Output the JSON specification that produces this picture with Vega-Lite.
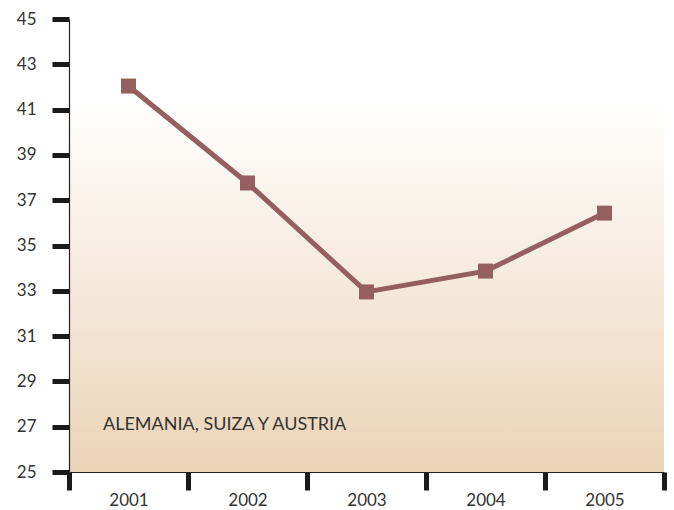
{
  "$schema": "https://vega.github.io/schema/vega-lite/v6.json",
  "width": 595,
  "height": 453,
  "autosize": {"type": "none"},
  "padding": {"left": 69, "top": 19, "right": 10, "bottom": 38},
  "background": "white",
  "config": {
    "view": {"stroke": null},
    "font": "Lato",
    "axis": {
      "grid": false,
      "domainColor": "#222222",
      "domainWidth": 1.2,
      "tickColor": "#1a1a1a",
      "labelColor": "#333333",
      "labelFont": "Lato",
      "title": null
    }
  },
  "datasets": {
    "series": [
      {"year": "2001", "value": 42.04},
      {"year": "2002", "value": 37.76},
      {"year": "2003", "value": 32.95},
      {"year": "2004", "value": 33.87},
      {"year": "2005", "value": 36.43}
    ],
    "band": [{"top": 41.5, "bottom": 25}],
    "label": [{"text": "ALEMANIA, SUIZA Y AUSTRIA", "year": "2001", "value": 27}]
  },
  "encoding": {
    "x": {
      "field": "year",
      "type": "ordinal",
      "scale": {"domain": ["2001", "2002", "2003", "2004", "2005"], "paddingInner": 0, "paddingOuter": 0},
      "axis": {
        "zindex": 1,
        "labelAngle": 0,
        "tickBand": "extent",
        "tickSize": 18,
        "tickWidth": 5,
        "labelPadding": 2,
        "labelFontSize": 17,
        "labelBaseline": "top"
      }
    },
    "y": {
      "field": "value",
      "type": "quantitative",
      "scale": {"domain": [25, 45], "nice": false, "zero": false},
      "axis": {
        "zindex": 1,
        "values": [25, 27, 29, 31, 33, 35, 37, 39, 41, 43, 45],
        "tickSize": 17,
        "tickWidth": 5,
        "labelPadding": 16,
        "labelFontSize": 17
      }
    }
  },
  "layer": [
    {
      "data": {"name": "band"},
      "mark": {
        "type": "rect",
        "color": {
          "gradient": "linear",
          "x1": 0, "y1": 0, "x2": 0, "y2": 1,
          "stops": [
            {"offset": 0, "color": "#ffffff"},
            {"offset": 1, "color": "#ebd3b7"}
          ]
        }
      },
      "encoding": {
        "x": null,
        "y": {"field": "top", "type": "quantitative"},
        "y2": {"field": "bottom"}
      }
    },
    {
      "data": {"name": "series"},
      "mark": {"type": "line", "color": "#955f5f", "strokeWidth": 5}
    },
    {
      "data": {"name": "series"},
      "mark": {"type": "square", "color": "#955f5f", "opacity": 1, "filled": true, "size": 225}
    },
    {
      "data": {"name": "label"},
      "mark": {"type": "text", "align": "left", "baseline": "middle", "dx": -25.5, "dy": -2, "fontSize": 18, "color": "#333333"},
      "encoding": {
        "text": {"field": "text"}
      }
    }
  ]
}
